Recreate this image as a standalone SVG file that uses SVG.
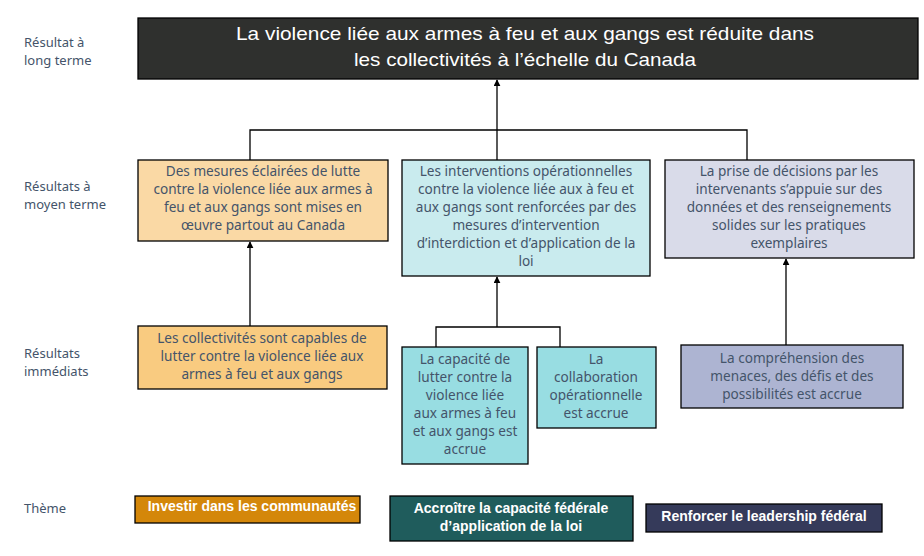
<svg xmlns="http://www.w3.org/2000/svg" width="924" height="556" viewBox="0 0 924 556">
<defs>
<style>
.lbl{font-family:"Noto Sans","Open Sans",sans-serif;font-size:13px;fill:#44546a}
.t{font-family:"Noto Sans","Open Sans",sans-serif;font-size:13.6px;fill:#44546a;text-anchor:middle}
.box{stroke:#000;stroke-width:1.3}
.th{font-family:"Liberation Sans",Arial,sans-serif;font-size:14px;font-weight:bold;fill:#fff;text-anchor:middle}
.ln{fill:none;stroke:#000;stroke-width:1.3}
</style>
<marker id="ah" viewBox="0 0 10 10" refX="9" refY="5" markerWidth="7" markerHeight="7" orient="auto-start-reverse" markerUnits="userSpaceOnUse">
<path d="M0,0 L10,5 L0,10 z" fill="#000"/>
</marker>
</defs>
<rect width="924" height="556" fill="#fff"/>

<g id="labels">
<text class="lbl" x="24" y="47">Résultat à</text>
<text class="lbl" x="24" y="65">long terme</text>
<text class="lbl" x="24" y="191">Résultats à</text>
<text class="lbl" x="24" y="209">moyen terme</text>
<text class="lbl" x="24" y="358">Résultats</text>
<text class="lbl" x="24" y="376">immédiats</text>
<text class="lbl" x="24" y="513">Thème</text>
</g>

<g id="connectors">
<line class="ln" x1="497" y1="130" x2="497" y2="80" marker-end="url(#ah)"/>
<polyline class="ln" points="250,160 250,130 747,130 747,160"/>
<line class="ln" x1="497" y1="130" x2="497" y2="160"/>
<line class="ln" x1="250" y1="326" x2="250" y2="242" marker-end="url(#ah)"/>
<polyline class="ln" points="436,347 436,327 560,327 560,347"/>
<line class="ln" x1="497" y1="327" x2="497" y2="277" marker-end="url(#ah)"/>
<line class="ln" x1="786" y1="345" x2="786" y2="259" marker-end="url(#ah)"/>
</g>

<g id="long-terme">
<rect x="138" y="18" width="780" height="61" fill="#2f302e" class="box"/>
<text x="525" y="40" font-family="Liberation Sans,Arial,sans-serif" font-size="19" fill="#fff" text-anchor="middle" textLength="578" lengthAdjust="spacingAndGlyphs">La violence liée aux armes à feu et aux gangs est réduite dans</text>
<text x="525" y="66" font-family="Liberation Sans,Arial,sans-serif" font-size="19" fill="#fff" text-anchor="middle" textLength="342" lengthAdjust="spacingAndGlyphs">les collectivités à l’échelle du Canada</text>
</g>

<g id="moyen-1">
<rect x="138" y="160" width="250" height="81" fill="#fad9a5" class="box"/>
<text class="t" x="263" y="176">Des mesures éclairées de lutte</text>
<text class="t" x="263" y="194">contre la violence liée aux armes à</text>
<text class="t" x="263" y="212">feu et aux gangs sont mises en</text>
<text class="t" x="263" y="230">œuvre partout au Canada</text>
</g>

<g id="moyen-2">
<rect x="402" y="160" width="248" height="116" fill="#c9ebee" class="box"/>
<text class="t" x="526" y="176">Les interventions opérationnelles</text>
<text class="t" x="526" y="194">contre la violence liée aux à feu et</text>
<text class="t" x="526" y="212">aux gangs sont renforcées par des</text>
<text class="t" x="526" y="230">mesures d’intervention</text>
<text class="t" x="526" y="248">d’interdiction et d’application de la</text>
<text class="t" x="526" y="266">loi</text>
</g>

<g id="moyen-3">
<rect x="665" y="160" width="249" height="98" fill="#d9dbe9" class="box"/>
<text class="t" x="789" y="176">La prise de décisions par les</text>
<text class="t" x="789" y="194">intervenants s’appuie sur des</text>
<text class="t" x="789" y="212">données et des renseignements</text>
<text class="t" x="789" y="230">solides sur les pratiques</text>
<text class="t" x="789" y="248">exemplaires</text>
</g>

<g id="imm-1">
<rect x="138" y="326" width="249" height="63" fill="#f9cb80" class="box"/>
<text class="t" x="262" y="343">Les collectivités sont capables de</text>
<text class="t" x="262" y="361">lutter contre la violence liée aux</text>
<text class="t" x="262" y="379">armes à feu et aux gangs</text>
</g>

<g id="imm-2">
<rect x="402" y="347" width="126" height="117" fill="#98dde2" class="box"/>
<text class="t" x="465" y="364">La capacité de</text>
<text class="t" x="465" y="382">lutter contre la</text>
<text class="t" x="465" y="400">violence liée</text>
<text class="t" x="465" y="418">aux armes à feu</text>
<text class="t" x="465" y="436">et aux gangs est</text>
<text class="t" x="465" y="454">accrue</text>
</g>

<g id="imm-3">
<rect x="537" y="347" width="119" height="81" fill="#98dde2" class="box"/>
<text class="t" x="596" y="364">La</text>
<text class="t" x="596" y="382">collaboration</text>
<text class="t" x="596" y="400">opérationnelle</text>
<text class="t" x="596" y="418">est accrue</text>
</g>

<g id="imm-4">
<rect x="681" y="345" width="222" height="63" fill="#adb4d2" class="box"/>
<text class="t" x="792" y="363">La compréhension des</text>
<text class="t" x="792" y="381">menaces, des défis et des</text>
<text class="t" x="792" y="399">possibilités est accrue</text>
</g>

<g id="theme-1">
<rect x="135" y="496" width="225" height="27" fill="#d4870a" class="box"/>
<text class="th" x="252" y="511">Investir dans les communautés</text>
</g>
<g id="theme-2">
<rect x="390" y="496" width="243" height="45" fill="#1f5c5c" class="box"/>
<text class="th" x="511" y="513">Accroître la capacité fédérale</text>
<text class="th" x="511" y="531">d’application de la loi</text>
</g>
<g id="theme-3">
<rect x="646" y="504" width="236" height="28" fill="#353a5a" class="box"/>
<text class="th" x="764" y="521">Renforcer le leadership fédéral</text>
</g>
</svg>
